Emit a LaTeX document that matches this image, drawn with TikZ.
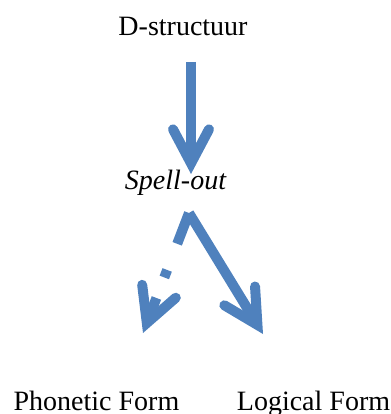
\documentclass[tikz,border=0pt]{standalone}
\usepackage{fontspec}
\setmainfont{Liberation Serif}
\usetikzlibrary{arrows.meta}
\definecolor{arrowblue}{HTML}{4F81BD}
\begin{document}
\begin{tikzpicture}[x=1pt,y=-1pt,
  label/.style={inner sep=0pt,anchor=base,font=\fontsize{28}{34}\selectfont},
  bigarrow/.style={draw=arrowblue,line width=10pt,
    -{Straight Barb[length=34pt,width=36pt,line cap=round]}}]
  \useasboundingbox (0,0) rectangle (390,414);

  % labels
  \node[label] (dstr)  at (183,36)    {D-structuur};
  \node[label] (spell) at (175.5,189) {\itshape Spell-out};
  \node[label] (pf)    at (96.5,410)  {Phonetic Form};
  \node[label] (lf)    at (313.5,410) {Logical Form};

  % arrow end points
  \coordinate (dOut) at (191,62);
  \coordinate (sIn)  at (191,174);
  \coordinate (sOut) at (189,213);
  \coordinate (pfIn) at (143,333);
  \coordinate (lfIn) at (263,334);

  % derivation arrows
  \draw[bigarrow] (dOut) -- (sIn);
  \draw[bigarrow] (sOut) -- (lfIn);
  \draw[bigarrow,dash pattern=on 33pt off 28pt on 8pt off 22pt] (sOut) -- (pfIn);
\end{tikzpicture}
\end{document}
